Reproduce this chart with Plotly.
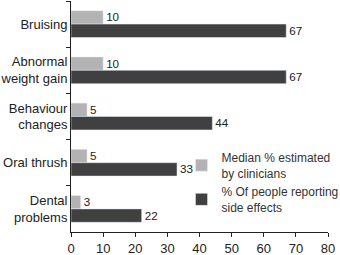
import plotly.graph_objects as go

categories = ["Bruising", "Abnormal<br>weight gain", "Behaviour<br>changes", "Oral thrush", "Dental<br>problems"]
clinician_estimates = [10, 10, 5, 5, 3]
people_reporting = [67, 67, 44, 33, 22]
series_names = ["Median % estimated<br>by clinicians", "% Of people reporting<br>side effects"]
x_ticks = [0, 10, 20, 30, 40, 50, 60, 70, 80]

fig = go.Figure()
fig.add_trace(go.Bar(y=categories, x=clinician_estimates, orientation="h", name=series_names[0],
                     marker=dict(color="#b3b3b3"), text=clinician_estimates, textposition="outside",
                     cliponaxis=False, textfont=dict(size=13, color="#222")))
fig.add_trace(go.Bar(y=categories, x=people_reporting, orientation="h", name=series_names[1],
                     marker=dict(color="#404040"), text=people_reporting, textposition="outside",
                     cliponaxis=False, textfont=dict(size=13, color="#222")))

fig.update_layout(
    width=340, height=255,
    margin=dict(l=71, r=12, t=1, b=23, autoexpand=False),
    paper_bgcolor="white", plot_bgcolor="white",
    font=dict(family="Liberation Sans, Arial, sans-serif", size=13, color="#222"),
    barmode="group", bargap=0.42, bargroupgap=0.0,
    showlegend=True,
    legend=dict(x=0.43, y=0.385, xanchor="left", yanchor="top", bgcolor="rgba(0,0,0,0)",
                font=dict(size=12, color="#333"), tracegroupgap=3, itemwidth=30),
    xaxis=dict(range=[0, 80], tickvals=x_ticks, showgrid=False, zeroline=False,
               showline=True, linecolor="#222", linewidth=1, ticks="outside", ticklen=4,
               tickcolor="#222", tickfont=dict(size=13), automargin=False),
    yaxis=dict(autorange="reversed", showgrid=False, zeroline=False, showline=True,
               linecolor="#222", linewidth=1, ticks="outside", ticklen=4, tickcolor="#222",
               tickson="boundaries", tickfont=dict(size=13), automargin=False),
)

fig.write_html("out.html", config={"displayModeBar": False},
               post_script="document.body.style.margin='0';document.body.style.overflow='hidden';")
